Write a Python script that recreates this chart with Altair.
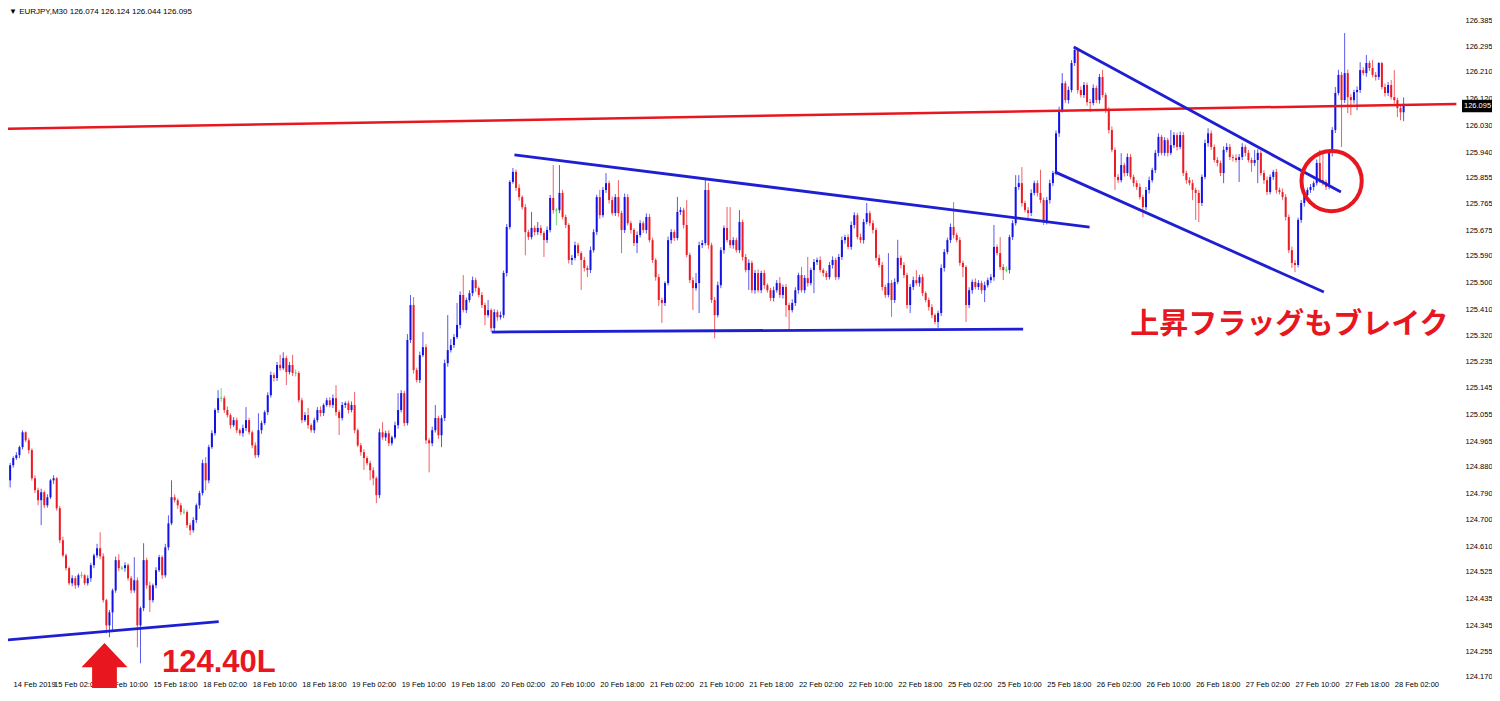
import altair as alt
import pandas as pd

# ---------------- data ----------------
first_open = 124.800
closes = [
    124.833, 124.884, 124.908, 124.918, 124.945, 124.995, 124.968, 124.935, 124.840, 124.800,
    124.766, 124.793, 124.749, 124.776, 124.833, 124.840, 124.739, 124.631, 124.580, 124.537,
    124.486, 124.503, 124.479, 124.513, 124.513, 124.486, 124.503, 124.547, 124.580, 124.604,
    124.577, 124.429, 124.344, 124.388, 124.462, 124.564, 124.537, 124.537, 124.547, 124.503,
    124.462, 124.496, 124.344, 124.402, 124.564, 124.479, 124.429, 124.479, 124.530, 124.574,
    124.513, 124.607, 124.688, 124.776, 124.766, 124.749, 124.726, 124.726, 124.682, 124.665,
    124.699, 124.749, 124.790, 124.891, 124.833, 124.945, 124.992, 125.070, 125.110, 125.110,
    125.070, 125.053, 125.019, 125.036, 125.002, 124.992, 125.009, 125.036, 124.995, 124.951,
    124.918, 125.002, 125.026, 125.063, 125.120, 125.188, 125.178, 125.222, 125.211, 125.245,
    125.198, 125.222, 125.195, 125.195, 125.103, 125.036, 125.053, 125.019, 125.002, 125.036,
    125.070, 125.060, 125.087, 125.103, 125.087, 125.110, 125.063, 125.043, 125.087, 125.093,
    125.070, 125.087, 125.002, 124.951, 124.928, 124.908, 124.891, 124.867, 124.840, 124.783,
    124.995, 124.978, 124.992, 124.958, 124.978, 125.019, 125.070, 125.127, 125.026, 125.306,
    125.424, 125.205, 125.171, 125.255, 125.282, 124.968, 124.958, 125.002, 125.043, 124.985,
    125.043, 125.228, 125.272, 125.289, 125.316, 125.357, 125.458, 125.407, 125.441, 125.464,
    125.508, 125.481, 125.458, 125.424, 125.390, 125.407, 125.346, 125.400, 125.383, 125.390,
    125.532, 125.687, 125.839, 125.873, 125.819, 125.788, 125.754, 125.670, 125.653, 125.684,
    125.670, 125.684, 125.667, 125.643, 125.677, 125.785, 125.744, 125.744, 125.802, 125.721,
    125.694, 125.576, 125.583, 125.626, 125.599, 125.576, 125.549, 125.542, 125.609, 125.670,
    125.788, 125.727, 125.812, 125.835, 125.778, 125.734, 125.788, 125.734, 125.677, 125.788,
    125.700, 125.677, 125.633, 125.660, 125.700, 125.677, 125.721, 125.643, 125.576, 125.518,
    125.441, 125.431, 125.498, 125.643, 125.670, 125.650, 125.738, 125.744, 125.694, 125.593,
    125.508, 125.481, 125.498, 125.626, 125.633, 125.812, 125.626, 125.441, 125.390, 125.491,
    125.609, 125.684, 125.643, 125.626, 125.643, 125.609, 125.704, 125.586, 125.542, 125.566,
    125.474, 125.532, 125.474, 125.532, 125.491, 125.474, 125.448, 125.474, 125.498, 125.458,
    125.485, 125.424, 125.407, 125.431, 125.474, 125.525, 125.474, 125.515, 125.498, 125.542,
    125.569, 125.576, 125.542, 125.532, 125.518, 125.559, 125.576, 125.518, 125.586, 125.643,
    125.653, 125.620, 125.694, 125.727, 125.653, 125.643, 125.704, 125.734, 125.700, 125.677,
    125.583, 125.559, 125.485, 125.458, 125.498, 125.441, 125.502, 125.583, 125.559, 125.525,
    125.424, 125.485, 125.508, 125.498, 125.518, 125.464, 125.441, 125.417, 125.390, 125.367,
    125.397, 125.549, 125.603, 125.643, 125.687, 125.660, 125.643, 125.566, 125.552, 125.424,
    125.474, 125.502, 125.485, 125.498, 125.474, 125.491, 125.508, 125.518, 125.620, 125.599,
    125.552, 125.542, 125.542, 125.653, 125.700, 125.822, 125.835, 125.768, 125.744, 125.734,
    125.802, 125.835, 125.802, 125.778, 125.704, 125.778, 125.835, 125.869, 126.003, 126.081,
    126.172, 126.115, 126.149, 126.240, 126.284, 126.149, 126.132, 126.166, 126.108, 126.105,
    126.156, 126.115, 126.193, 126.132, 126.081, 126.014, 125.947, 125.856, 125.845, 125.896,
    125.869, 125.923, 125.856, 125.835, 125.822, 125.788, 125.754, 125.812, 125.845, 125.879,
    125.937, 125.991, 125.937, 125.980, 125.937, 125.963, 125.997, 125.957, 125.997, 125.869,
    125.845, 125.835, 125.812, 125.802, 125.768, 125.856, 125.970, 126.003, 125.957, 125.913,
    125.903, 125.869, 125.947, 125.957, 125.923, 125.920, 125.913, 125.923, 125.957, 125.937,
    125.913, 125.903, 125.913, 125.937, 125.869, 125.845, 125.805, 125.856, 125.873, 125.812,
    125.805, 125.788, 125.721, 125.609, 125.566, 125.559, 125.711, 125.768, 125.795, 125.812,
    125.822, 125.835, 125.903, 125.845, 125.839, 125.822, 125.937, 126.014, 126.139, 126.200,
    126.115, 126.206, 126.125, 126.115, 126.142, 126.149, 126.216, 126.206, 126.240, 126.223,
    126.200, 126.193, 126.240, 126.159, 126.139, 126.166, 126.125, 126.115, 126.088, 126.074,
    126.095,
]
# wick lengths above / below the candle body, in points (0.001 JPY)
upper_wick_pts = [
    17, 8, 6, 10, 5, 7, 3, 8, 6, 10,   8, 12, 6, 10, 5, 10, 4, 8, 12, 6,
    5, 10, 8, 6, 12, 4, 10, 8, 6, 15,   54, 10, 5, 8, 6, 12, 20, 8, 10, 6,
    8, 78, 10, 6, 57, 8, 12, 6, 10, 8,   6, 12, 27, 57, 10, 6, 8, 12, 6, 8,
    10, 6, 8, 12, 20, 8, 10, 6, 27, 34,   8, 12, 6, 10, 8, 6, 12, 44, 8, 6,
    10, 57, 8, 6, 10, 12, 8, 10, 34, 20,   8, 10, 34, 12, 6, 8, 10, 24, 6, 8,
    10, 12, 6, 8, 10, 12, 44, 8, 10, 6,   8, 12, 44, 6, 8, 10, 6, 8, 10, 6,
    12, 34, 8, 10, 6, 12, 57, 10, 8, 20,   34, 27, 8, 12, 51, 10, 8, 12, 44, 8,
    10, 12, 118, 20, 10, 74, 12, 67, 8, 10,   12, 8, 6, 10, 8, 34, 6, 10, 8, 12,
    8, 10, 6, 13, 8, 12, 6, 10, 8, 54,   8, 20, 10, 6, 12, 10, 111, 8, 94, 10,
    8, 6, 10, 12, 8, 6, 10, 8, 12, 10,   8, 24, 10, 34, 8, 12, 10, 57, 8, 12,
    10, 8, 6, 12, 10, 8, 12, 10, 8, 6,   10, 8, 6, 12, 10, 8, 51, 10, 8, 84,
    8, 10, 34, 12, 10, 34, 24, 8, 10, 12,   10, 8, 71, 111, 10, 8, 40, 8, 10, 12,
    8, 10, 12, 8, 10, 6, 8, 12, 10, 20,   8, 10, 8, 12, 10, 8, 27, 10, 71, 8,
    10, 8, 12, 6, 8, 10, 12, 8, 10, 12,   8, 10, 12, 10, 8, 12, 10, 34, 8, 10,
    8, 12, 10, 8, 101, 10, 12, 61, 8, 10,   8, 10, 12, 34, 8, 10, 6, 8, 10, 6,
    8, 12, 10, 8, 12, 84, 8, 10, 8, 6,   10, 8, 12, 10, 8, 12, 8, 10, 74, 8,
    54, 10, 12, 8, 10, 40, 27, 54, 8, 10,   12, 8, 10, 78, 8, 10, 12, 8, 10, 12,
    34, 8, 12, 10, 10, 8, 12, 10, 8, 10,   12, 8, 10, 24, 8, 10, 12, 8, 10, 40,
    8, 12, 10, 8, 10, 12, 8, 10, 12, 8,   10, 12, 7, 10, 8, 51, 10, 8, 12, 10,
    8, 10, 12, 8, 10, 8, 12, 17, 10, 8,   10, 8, 12, 13, 10, 8, 12, 10, 13, 8,
    10, 8, 34, 12, 8, 10, 12, 8, 7, 10,   8, 12, 10, 8, 12, 10, 8, 10, 12, 8,
    10, 8, 12, 44, 91, 8, 12, 10, 20, 17,   10, 135, 12, 10, 8, 12, 27, 10, 27, 8,
    27, 10, 3, 3, 12, 10, 17, 91, 8, 10,   29,
]
lower_wick_pts = [
    44, 24, 8, 6, 10, 8, 6, 12, 8, 10,   17, 84, 10, 8, 6, 12, 8, 10, 6, 8,
    7, 10, 12, 8, 10, 6, 8, 12, 10, 8,   10, 8, 27, 40, 61, 8, 10, 6, 12, 8,
    10, 8, 74, 128, 10, 12, 40, 8, 10, 6,   12, 8, 10, 6, 8, 12, 10, 8, 10, 17,
    8, 10, 12, 8, 34, 10, 6, 8, 10, 12,   10, 8, 12, 6, 10, 8, 12, 10, 8, 10,
    10, 8, 12, 6, 10, 8, 12, 10, 8, 6,   44, 8, 10, 12, 8, 10, 6, 12, 8, 10,
    8, 12, 10, 6, 8, 10, 12, 57, 8, 10,   12, 8, 10, 6, 12, 40, 8, 34, 24, 27,
    10, 8, 12, 10, 8, 6, 12, 8, 10, 8,   10, 12, 8, 10, 6, 12, 98, 10, 8, 12,
    40, 10, 12, 8, 10, 6, 12, 8, 10, 8,   10, 12, 8, 10, 34, 8, 13, 10, 12, 8,
    10, 12, 8, 6, 10, 12, 8, 78, 10, 8,   12, 10, 8, 57, 10, 8, 12, 51, 10, 8,
    10, 12, 17, 8, 10, 101, 12, 24, 10, 8,   10, 12, 8, 10, 12, 8, 10, 12, 78, 10,
    8, 12, 10, 34, 8, 10, 12, 8, 10, 12,   20, 67, 10, 8, 12, 10, 8, 10, 12, 8,
    10, 74, 8, 101, 10, 8, 12, 10, 78, 8,   10, 12, 8, 10, 12, 8, 10, 12, 8, 67,
    10, 12, 8, 10, 12, 8, 10, 12, 8, 10,   12, 40, 67, 8, 10, 12, 8, 10, 12, 8,
    78, 10, 8, 12, 10, 8, 12, 10, 8, 10,   12, 8, 10, 12, 8, 10, 12, 8, 10, 12,
    10, 8, 12, 10, 8, 57, 10, 8, 12, 10,   12, 27, 10, 8, 12, 10, 8, 12, 10, 8,
    20, 10, 12, 8, 10, 12, 8, 10, 34, 57,   10, 12, 8, 10, 12, 40, 8, 10, 12, 8,
    10, 34, 8, 12, 10, 8, 10, 12, 8, 24,   10, 8, 12, 10, 10, 8, 12, 10, 8, 12,
    8, 10, 12, 8, 10, 12, 8, 10, 12, 30,   8, 10, 12, 8, 10, 12, 8, 44, 10, 8,
    12, 10, 8, 12, 10, 8, 34, 10, 12, 8,   10, 12, 8, 10, 12, 8, 10, 12, 8, 10,
    12, 8, 34, 91, 64, 10, 8, 12, 10, 8,   12, 10, 34, 8, 10, 12, 8, 74, 10, 12,
    8, 30, 10, 78, 8, 12, 10, 8, 10, 12,   8, 10, 12, 10, 17, 24, 8, 10, 12, 8,
    10, 12, 8, 10, 12, 10, 8, 12, 10, 8,   158, 10, 54, 51, 12, 61, 10, 8, 12, 10,
    8, 12, 10, 8, 12, 10, 8, 12, 30, 27,   30,
]

# time-axis labels (bar index -> text)
time_label_bars = [1.95] + [15 + 16 * k for k in range(28)]
time_labels = [
    "14 Feb 2019", "15 Feb 02:00", "15 Feb 10:00", "15 Feb 18:00", "18 Feb 02:00",
    "18 Feb 10:00", "18 Feb 18:00", "19 Feb 02:00", "19 Feb 10:00", "19 Feb 18:00",
    "20 Feb 02:00", "20 Feb 10:00", "20 Feb 18:00", "21 Feb 02:00", "21 Feb 10:00",
    "21 Feb 18:00", "22 Feb 02:00", "22 Feb 10:00", "22 Feb 18:00", "25 Feb 02:00",
    "25 Feb 10:00", "25 Feb 18:00", "26 Feb 02:00", "26 Feb 10:00", "26 Feb 18:00",
    "27 Feb 02:00", "27 Feb 10:00", "27 Feb 18:00", "28 Feb 02:00",
]
price_ticks = [
    124.170, 124.255, 124.345, 124.435, 124.525, 124.610, 124.700, 124.790, 124.880,
    124.965, 125.055, 125.145, 125.235, 125.320, 125.410, 125.500, 125.590, 125.675,
    125.765, 125.855, 125.940, 126.030, 126.120, 126.210, 126.295, 126.385,
]

# trend lines drawn on the chart: (line id, bar index, price)
blue_line_ids = ["support", "support", "tri_top", "tri_top", "tri_base", "tri_base",
                 "flag_top", "flag_top", "flag_base", "flag_base"]
blue_line_bars = [0.3, 68.2, 163.5, 348.8, 156.2, 327.4, 343.7, 429.8, 337.6, 424.3]
blue_line_prices = [124.295, 124.357, 125.930, 125.687, 125.333, 125.343,
                    126.294, 125.805, 125.873, 125.468]
red_line_bars = [-1.0, 467.0]
red_line_prices = [126.018, 126.102]

circle_bar, circle_price = 426.8, 125.842
arrow_bar, arrow_price = 31.4, 124.185
note_bars = [49.9, 361.9]
note_prices = [124.187, 125.357]
note_texts = ["124.40L", "上昇フラッグもブレイク"]
header_text = "\u25BC EURJPY,M30  126.074 126.124 126.044 126.095"
last_price = 126.095

# ---------------- build ----------------
BLUE = "#1212e6"
RED = "#ec1c24"
GREEN = "#2fcf2f"
LINE_BLUE = "#1e1ed2"
ANN_RED = "#e8161e"

W, H = 1453, 670
xs = alt.Scale(domain=[1.92, 466.88], nice=False, zero=False)
ys = alt.Scale(domain=[124.1666, 126.4255], nice=False, zero=False)

rows = []
prev = first_open
for i, c in enumerate(closes):
    o = prev
    top, bot = max(o, c), min(o, c)
    d = "up" if c > o else ("down" if c < o else "doji")
    btop, bbot = (top + 0.0015, bot - 0.0015) if d == "doji" else (top, bot)
    rows.append({"i": i, "open": o, "close": c,
                 "high": top + upper_wick_pts[i] / 1000.0,
                 "low": bot - lower_wick_pts[i] / 1000.0,
                 "btop": btop, "bbot": bbot, "dir": d})
    prev = c
df = pd.DataFrame(rows)

cscale = alt.Scale(domain=["up", "down", "doji"], range=[BLUE, RED, GREEN])

label_expr = ("[" + ",".join("'%s'" % s for s in time_labels) + "][indexof(["
              + ",".join(str(b) for b in time_label_bars) + "], datum.value)]")

x_axis = alt.Axis(values=time_label_bars, labelExpr=label_expr, title=None, grid=False,
                  labelFont="Liberation Sans", labelFontSize=7.5, labelColor="#000000",
                  labelAlign="left", labelBaseline="top", labelPadding=2,
                  ticks=False, domain=False, labelFlush=False, labelOverlap=False)
y_axis = alt.Axis(values=price_ticks, format=".3f", orient="right", title=None, grid=False,
                  labelFont="Liberation Sans", labelFontSize=7.5, labelColor="#000000",
                  labelPadding=4, ticks=False, domain=False,
                  labelFlush=False, labelOverlap=False)


def X(field):
    return alt.X(field, scale=xs, axis=x_axis)


def Y(field):
    return alt.Y(field, scale=ys, axis=y_axis)


base = alt.Chart(df)
wicks = base.mark_rule(strokeWidth=1, opacity=0.7).encode(
    x=X("i:Q"), y=Y("low:Q"), y2="high:Q",
    color=alt.Color("dir:N", scale=cscale, legend=None),
)
bodies = base.mark_bar(size=2).encode(
    x=X("i:Q"), y=Y("bbot:Q"), y2="btop:Q",
    color=alt.Color("dir:N", scale=cscale, legend=None),
)

blue_df = pd.DataFrame({"id": blue_line_ids, "bar": blue_line_bars, "price": blue_line_prices})
blue_lines = alt.Chart(blue_df).mark_line(color=LINE_BLUE, strokeWidth=2.8).encode(
    x=X("bar:Q"), y=Y("price:Q"), detail="id:N")

red_df = pd.DataFrame({"bar": red_line_bars, "price": red_line_prices})
red_line = alt.Chart(red_df).mark_line(color=ANN_RED, strokeWidth=2.5, clip=True).encode(
    x=X("bar:Q"), y=Y("price:Q"))

circ = alt.Chart(pd.DataFrame({"bar": [circle_bar], "price": [circle_price]})).mark_point(
    shape="circle", size=3632, filled=False, strokeWidth=4, color=ANN_RED, opacity=1).encode(
    x=X("bar:Q"), y=Y("price:Q"))

ARROW = "M0,-1 L0.78,-0.18 L0.42,-0.18 L0.42,1 L-0.42,1 L-0.42,-0.18 L-0.78,-0.18 Z"
arrow = alt.Chart(pd.DataFrame({"bar": [arrow_bar], "price": [arrow_price]})).mark_point(
    shape=ARROW, size=3481, filled=True, color=ANN_RED, opacity=1, strokeWidth=0).encode(
    x=X("bar:Q"), y=Y("price:Q"))

note1 = alt.Chart(pd.DataFrame({"bar": [note_bars[0]], "price": [note_prices[0]],
                                "t": [note_texts[0]]})).mark_text(
    font="Liberation Sans", fontWeight="bold", fontSize=31, color=ANN_RED,
    align="left", baseline="alphabetic").encode(
    x=X("bar:Q"), y=Y("price:Q"), text="t:N")
note2 = alt.Chart(pd.DataFrame({"bar": [note_bars[1]], "price": [note_prices[1]],
                                "t": [note_texts[1]]})).mark_text(
    font="Noto Sans CJK JP", fontWeight="bold", fontSize=29, color=ANN_RED,
    align="left", baseline="middle").encode(
    x=X("bar:Q"), y=Y("price:Q"), text="t:N")

header = alt.Chart(pd.DataFrame({"t": [header_text]})).mark_text(
    font="Liberation Sans", fontSize=8, color="#000000", align="left", baseline="middle").encode(
    x=alt.value(1), y=alt.value(4), text="t:N")

pbox_df = pd.DataFrame({"price": [last_price], "lo": [last_price - 0.021],
                        "hi": [last_price + 0.021], "t": ["%.3f" % last_price]})
pbox = alt.Chart(pbox_df).mark_rect(color="#000000").encode(
    x=alt.value(W + 1), x2=alt.value(W + 31), y=Y("lo:Q"), y2="hi:Q")
ptext = alt.Chart(pbox_df).mark_text(
    font="Liberation Sans", fontSize=7.5, color="#ffffff", align="left", baseline="middle").encode(
    x=alt.value(W + 3), y=Y("price:Q"), text="t:N")

chart = alt.layer(
    wicks, bodies, red_line, blue_lines, circ, arrow, note1, note2, header, pbox, ptext
).properties(
    width=W, height=H,
    autosize=alt.AutoSizeParams(type="none"),
    padding={"left": 0, "top": 0, "right": 31, "bottom": 10},
    background="#ffffff",
).configure_view(strokeWidth=0)

chart.save("out.html", embed_options={"renderer": "svg", "actions": False})
